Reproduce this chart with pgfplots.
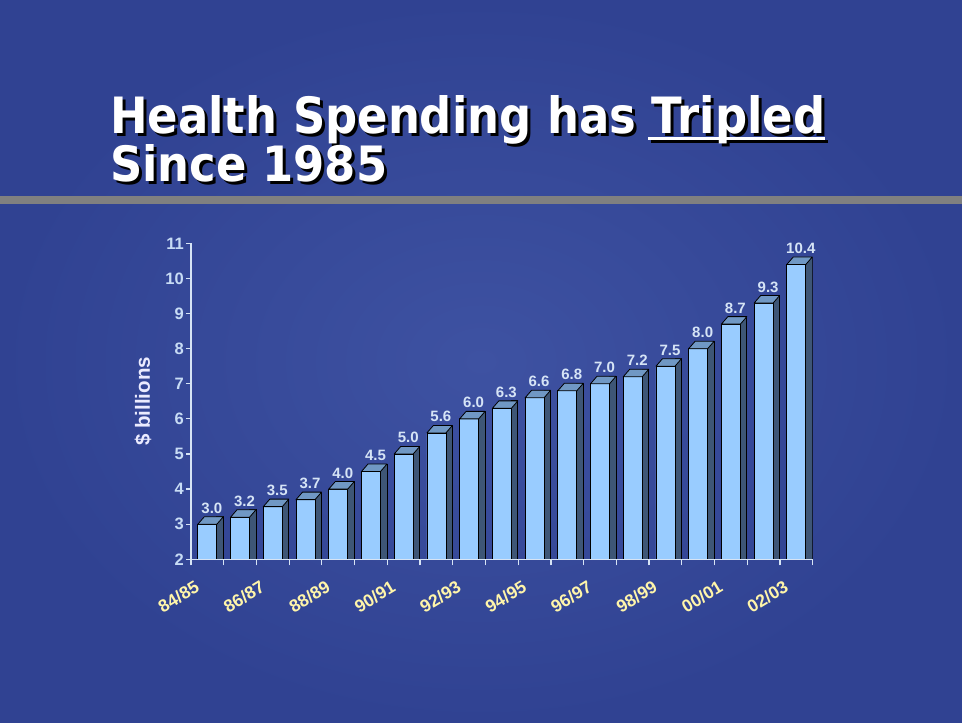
\documentclass[border=0pt]{standalone}
\usepackage{pgfplots}
\pgfplotsset{compat=1.18}
\usepackage{graphicx}
\usepackage{fontspec}
\setmainfont{Liberation Sans}
\newfontfamily\titlefont{DejaVu Sans}
\definecolor{bgA}{RGB}{62,82,162}
\definecolor{bgB}{RGB}{48,66,146}
\definecolor{frontc}{RGB}{153,204,255}
\definecolor{topc}{RGB}{112,152,196}
\definecolor{sidec}{RGB}{62,86,118}
\definecolor{ytl}{RGB}{200,220,245}
\definecolor{xtl}{RGB}{255,245,170}
\definecolor{axc}{RGB}{215,228,245}
\definecolor{lblc}{RGB}{214,228,246}
\definecolor{barg}{RGB}{128,128,128}
\pgfdeclareplotmark{topface}{%
  \pgfpathmoveto{\pgfqpoint{-9.5bp}{0bp}}%
  \pgfpathlineto{\pgfqpoint{-3bp}{7.5bp}}%
  \pgfpathlineto{\pgfqpoint{16bp}{7.5bp}}%
  \pgfpathlineto{\pgfqpoint{9.5bp}{0bp}}%
  \pgfpathclose
  \pgfusepathqfillstroke}
\pgfplotstableread{
x y
0 3.0
1 3.2
2 3.5
3 3.7
4 4.0
5 4.5
6 5.0
7 5.6
8 6.0
9 6.3
10 6.6
11 6.8
12 7.0
13 7.2
14 7.5
15 8.0
16 8.7
17 9.3
18 10.4
}\spend
\begin{document}
\begin{tikzpicture}
\path[use as bounding box] (0bp,0bp) rectangle (962bp,723bp);
\shade[inner color=bgA, outer color=bgB] (0bp,0bp) rectangle (962bp,723bp);
\fill[barg] (0bp,519bp) rectangle (962bp,527bp);
% title shadow
\node[anchor=base west, inner sep=0pt, text=black] at (113bp,586.5bp) {\resizebox{715bp}{38bp}{\titlefont\bfseries Health Spending has Tripled}};
\node[anchor=base west, inner sep=0pt, text=black] at (113bp,538bp) {\resizebox{277bp}{37bp}{\titlefont\bfseries Since 1985}};
\fill[black] (651bp,579.5bp) rectangle (828bp,582.5bp);
% title
\node[anchor=base west, inner sep=0pt, text=white] at (110bp,589.5bp) {\resizebox{715bp}{38bp}{\titlefont\bfseries Health Spending has Tripled}};
\node[anchor=base west, inner sep=0pt, text=white] at (110bp,541bp) {\resizebox{277bp}{37bp}{\titlefont\bfseries Since 1985}};
\fill[white] (648bp,582.5bp) rectangle (825bp,585.5bp);
\begin{axis}[
  at={(191bp,163.7bp)}, anchor=south west,
  x=32.72bp, y=35.1bp,
  xmin=-0.5, xmax=18.5, ymin=2, ymax=11,
  axis on top=true,
  axis x line*=bottom, axis y line*=left,
  axis line style={axc, line width=1.2bp, -},
  /pgf/number format/assume math mode=true,
  ytick={2,...,11},
  xtick={0,2,...,18},
  xticklabels={84/85,86/87,88/89,90/91,92/93,94/95,96/97,98/99,00/01,02/03},
  minor xtick={-0.5,0.5,...,18.5},
  major x tick style={draw=none},
  tick align=outside,
  tick style={axc, line width=1.2bp},
  minor tick length=6bp, major tick length=5bp,
  yticklabel style={font=\fontsize{16.5bp}{16.5bp}\selectfont\bfseries, text=ytl, inner sep=2bp},
  xticklabel style={font=\fontsize{17.5bp}{17.5bp}\selectfont\bfseries, text=xtl, xshift=-13bp, yshift=-14bp, rotate=31, anchor=north east, inner sep=1bp},
  ylabel={\$ billions},
  ylabel style={font=\fontsize{20.5bp}{20.5bp}\selectfont\bfseries, text=white!92!blue, at={(rel axis cs:0,0.5)}, anchor=center, yshift=48bp},
]
% side faces
\addplot[ybar, bar width=6.5bp, bar shift=12.75bp, fill=sidec, draw=black, line width=0.8bp,
  y filter/.expression={y+0.2137}] table[x=x,y=y] {\spend};
% front faces
\addplot[ybar, bar width=19bp, bar shift=0bp, fill=frontc, draw=black, line width=0.8bp,
  nodes near coords={\pgfmathprintnumber[fixed, fixed zerofill, precision=1]{\pgfplotspointmeta}},
  every node near coord/.append style={font=\fontsize{15bp}{15bp}\selectfont\bfseries, text=lblc, anchor=south, inner sep=0pt, yshift=10.5bp, xshift=4.5bp},
] table[x=x,y=y] {\spend};
% top faces
\addplot[only marks, mark=topface, mark options={fill=topc, draw=black, line width=0.8bp, line join=round}] table[x=x,y=y] {\spend};
\end{axis}
\end{tikzpicture}
\end{document}
